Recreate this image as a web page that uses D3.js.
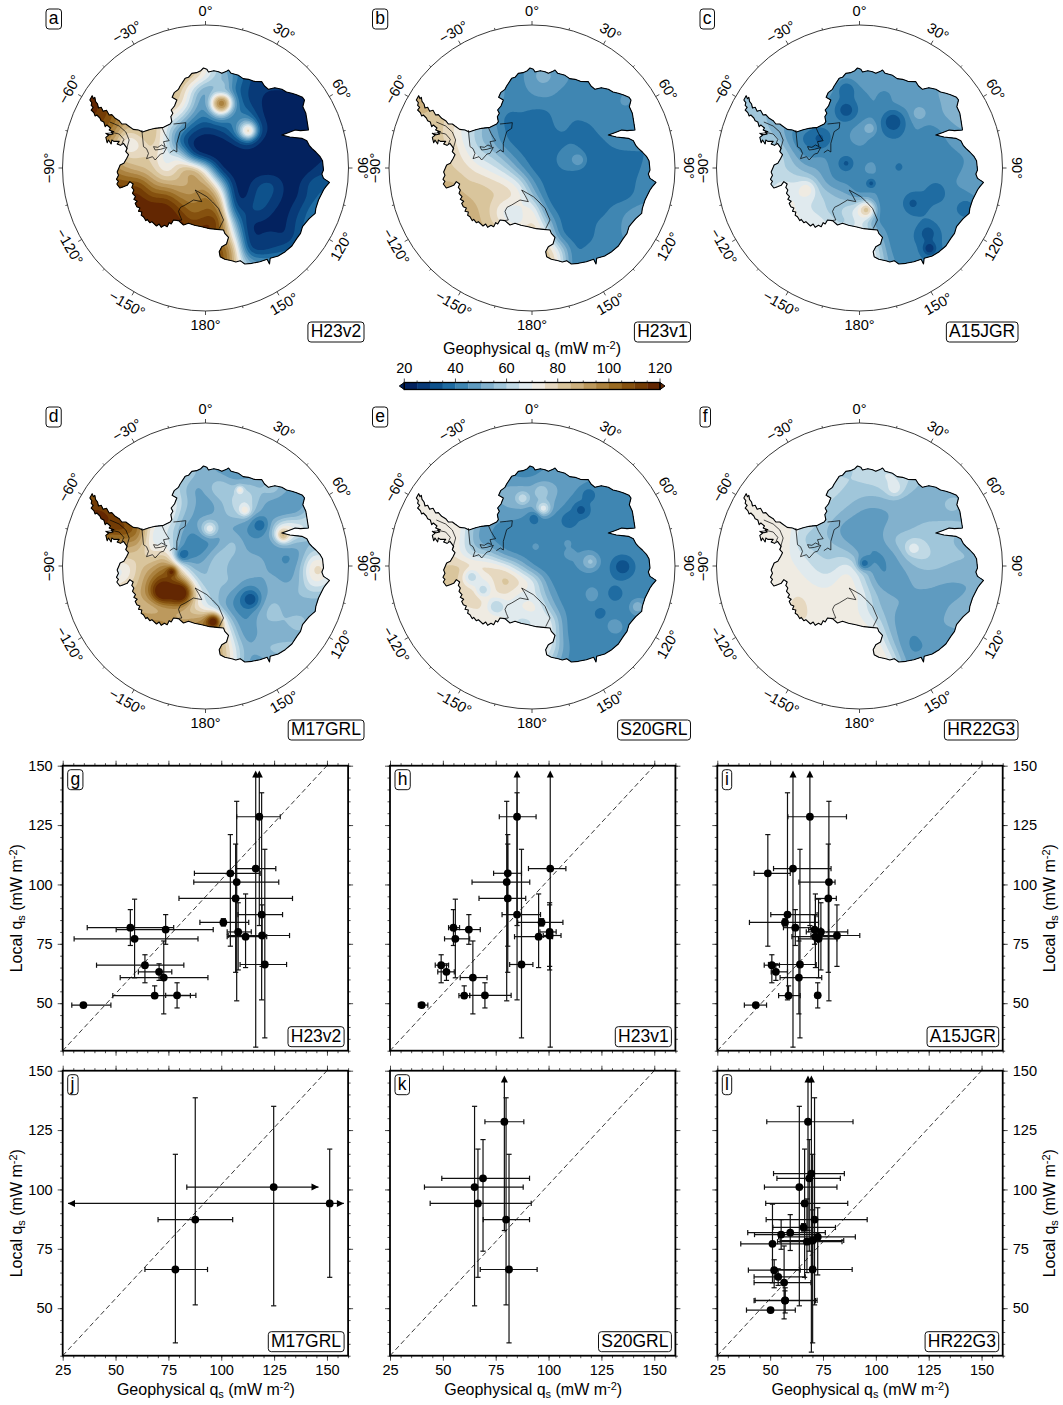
<!DOCTYPE html>
<html>
<head>
<meta charset="utf-8">
<script src="https://cdnjs.cloudflare.com/ajax/libs/d3/7.9.0/d3.min.js"></script>
<style>
  body { margin: 0; background: #fff; }
  text { font-family: "Liberation Sans", Arial, sans-serif; fill: #000; }
</style>
</head>
<body>
<svg id="fig" width="1063" height="1405"></svg>
<script>
// colour bar, one colour per 5 mW/m2 bin
const binEdges = d3.range(20, 121, 5);
const binColors = ["#03225f","#083a78","#0e528c","#1f6ca2","#3f86b2","#5f9bc0","#82b1cd","#a0c6da","#c0d9e5","#e0eaee",
  "#efebe2","#e6d8bf","#d9c59c","#ccb07e","#bc995d","#ab823f","#996b23","#85510f","#733c05","#632702"];
const colorbarTicks = [20, 40, 60, 80, 100, 120];

// coastline in map units, the graticule circle runs 98..956 / 75..933
const coast = [[187,287],[191,296],[195,292],[197,304],[203,312],[206,324],[214,322],[220,334],[230,331],[238,345],[246,344],[256,355],[268,362],[276,372],[288,372],[296,378],[310,388],[326,390],[338,396],
  [358,389],[376,385],[401,382],[421,372],[426,365],[423,350],[429,340],[424,330],[434,318],[441,300],[427,292],[433,278],[446,268],[451,258],[466,235],[476,232],[486,220],[500,218],[513,212],[521,204],[531,208],[536,216],[552,212],[566,215],[576,220],[590,214],[596,210],[604,220],[626,226],[640,236],[656,238],[672,244],[696,245],[704,258],[716,268],[735,263],[756,268],[770,276],[786,280],[800,284],[818,292],[824,300],[819,320],[828,340],[831,358],[836,390],
  [812,392],[796,390],[775,398],[756,405],[780,411],[816,415],[831,422],[838,436],[846,445],[858,456],[871,470],[878,482],[881,510],[876,522],[881,535],[899,547],[888,560],[881,570],[872,588],[866,600],[858,625],[856,640],[838,656],[826,670],[818,680],[812,700],[801,715],[786,738],[766,755],[745,768],[721,775],[719,792],[712,778],[690,785],[666,790],[645,792],[631,782],[618,786],[606,782],[585,778],[571,770],[568,755],[576,740],[590,732],[596,712],[585,700],[581,690],[561,688],[540,686],[516,680],[494,676],[476,670],[461,675],[446,662],[431,660],[424,672],[418,668],[412,680],[404,676],[394,682],[388,672],[380,678],[366,665],[360,668],[352,658],[348,662],[341,650],[334,646],[336,636],[326,634],[330,624],[321,620],[316,610],[322,604],[312,598],[317,590],[308,580],[312,570],[306,562],[310,552],[300,545],[292,556],[281,560],[270,564],[261,552],[266,544],[260,538],[266,526],[262,516],[271,495],[282,490],[290,476],[296,464],[288,455],[292,445],[281,430],[272,436],[262,432],[268,424],[252,424],[246,420],[244,432],[236,420],[232,428],[228,412],[236,406],[228,400],[240,404],[250,402],[244,396],[252,395],[238,390],[242,384],[231,375],[226,380],[222,366],[214,362],[210,354],[201,345],[196,348],[192,338],[184,330],[190,322],[184,316],[186,308],[180,300]];
const groundingRonne = [[336,390],[341,440],[350,446],[356,460],[350,476],[368,470],[376,480],[392,462],[401,460],[411,442],[392,448],[376,450],[371,440],[384,442],[395,435],[406,440]];
const groundingBerkner = [[396,382],[404,400],[411,412],[418,422],[401,425],[406,440]];
const groundingFilchner = [[420,458],[432,450],[441,456],[441,430],[451,395],[466,385],[468,368],[451,370],[431,372]];
const groundingRoss = [[496,570],[506,586],[516,605],[491,600],[466,615],[452,622],[446,634],[450,646],[456,660],[442,662]];
const groundingRoss2 = [[496,570],[531,590],[548,606],[566,625],[581,660],[568,686]];
const groundingPen = [[240,366],[268,378],[288,396],[298,420],[288,455]];
const groundingIsland = [[232,400],[250,398],[268,402],[282,418],[276,432]];

// heat flow, on a coarse grid (17 rows, 20 columns), mW/m2
const fieldH23v2 = [
[115,115,110,100,95,90,88,85,85,70,55,40,30,27,27,27,27,27,27,27],
[115,115,110,100,95,92,92,90,85,72,58,48,32,27,26,26,26,26,26,26],
[118,118,112,100,95,90,88,85,60,42,50,36,30,25,25,25,26,26,26,26],
[118,115,108,95,90,88,85,82,58,36,96,45,30,24,24,24,24,25,26,26],
[116,116,105,92,85,80,75,65,45,38,50,35,45,24,22,22,22,24,26,26],
[110,108,100,82,88,90,62,45,30,25,28,40,70,30,22,22,22,22,26,26],
[105,100,90,60,72,85,68,30,20,20,20,22,30,22,20,20,20,22,24,24],
[100,95,88,78,80,80,62,75,24,20,20,20,20,20,20,20,20,22,24,26],
[105,105,100,92,85,82,66,85,105,70,22,20,20,20,20,20,20,24,30,30],
[110,110,110,108,112,92,88,85,88,95,60,22,22,32,34,22,24,36,34,30],
[118,118,118,118,118,108,112,98,95,105,90,22,22,36,30,22,24,34,36,36],
[122,122,122,122,122,122,122,112,100,105,105,28,30,34,24,22,30,40,40,40],
[122,122,122,122,122,122,122,118,110,118,118,55,24,22,22,24,34,40,40,40],
[120,120,120,120,120,120,120,120,120,120,100,75,24,26,28,22,35,40,40,40],
[115,115,115,115,115,115,115,115,115,115,112,95,28,24,28,35,40,40,40,40],
[115,115,115,115,115,115,115,115,115,115,112,90,55,50,50,45,45,45,45,45],
[115,115,115,115,115,115,115,115,115,115,112,90,55,50,50,45,45,45,45,45]];
const fieldH23v1 = [
[88,88,85,80,75,70,60,45,42,48,50,45,42,40,40,42,42,42,42,42],
[90,88,85,82,75,70,60,40,42,52,52,50,44,42,42,42,42,42,42,42],
[88,88,85,80,72,65,55,42,42,47,50,44,42,42,38,42,46,44,42,42],
[85,88,82,78,70,62,52,42,42,42,42,42,42,42,42,44,48,42,42,42],
[85,85,82,78,72,60,44,37,40,37,37,44,40,42,42,42,42,42,42,42],
[80,80,82,75,65,55,50,37,37,37,37,42,38,37,42,42,40,40,40,40],
[80,80,82,78,68,55,50,40,37,37,37,37,40,37,38,42,44,40,40,40],
[85,85,82,80,72,64,60,50,40,37,37,42,47,37,37,37,37,40,40,40],
[85,85,82,80,78,72,68,62,48,37,37,40,40,37,37,37,37,40,42,42],
[85,85,85,88,80,82,78,75,68,45,37,37,37,37,37,37,37,42,42,42],
[85,85,85,88,86,82,82,80,75,55,37,37,37,37,37,37,37,42,42,42],
[88,88,88,88,90,85,78,62,68,80,42,37,37,37,37,42,45,48,48,48],
[88,88,88,88,90,86,80,70,62,80,60,38,37,37,42,42,47,52,52,52],
[88,88,88,88,88,88,88,88,88,85,72,38,37,37,42,42,47,50,50,50],
[90,90,90,90,90,90,90,90,90,90,85,68,38,42,42,42,42,42,42,42],
[90,90,90,90,90,90,90,90,90,90,88,70,38,42,42,42,42,42,42,42],
[90,90,90,90,90,90,90,90,90,90,88,70,38,42,42,42,42,42,42,42]];
const fieldA15JGR = [
[58,58,58,55,50,50,50,50,47,48,48,48,48,48,48,48,48,48,48,48],
[58,58,58,55,50,50,50,50,47,50,52,50,50,48,48,48,48,48,48,48],
[55,55,55,55,50,50,47,47,40,44,46,50,50,47,47,52,52,50,50,50],
[55,55,55,55,50,50,47,42,40,42,46,42,48,48,46,50,52,50,50,50],
[56,56,55,52,50,50,47,42,40,42,46,46,42,48,47,50,52,50,50,50],
[60,60,55,52,42,40,44,42,44,50,44,40,38,47,42,44,50,50,50,50],
[60,60,58,58,42,38,45,44,44,47,42,42,42,45,42,42,48,50,50,50],
[65,65,62,66,52,42,47,42,42,42,45,42,40,42,40,38,42,45,48,48],
[66,66,62,60,58,52,50,42,40,46,48,40,38,42,45,42,42,47,48,48],
[66,66,60,68,65,62,52,44,45,40,44,44,42,44,42,42,46,48,52,50],
[66,66,68,68,72,65,62,58,50,42,48,40,45,40,38,40,42,42,47,47],
[68,68,68,68,72,65,62,55,68,70,42,40,45,40,40,42,40,40,40,42],
[70,70,70,70,72,70,70,60,52,72,44,42,42,42,40,42,42,42,42,42],
[72,72,72,72,72,72,72,72,72,72,62,42,42,40,38,40,42,42,42,42],
[72,72,72,72,72,72,72,72,72,72,72,45,40,42,38,40,42,42,42,42],
[72,72,72,72,72,72,72,72,72,72,72,50,42,42,40,38,42,42,42,42],
[72,72,72,72,72,72,72,72,72,72,72,50,42,42,40,38,42,42,42,42]];
const fieldM17GRL = [
[100,100,100,90,80,70,60,55,55,52,50,46,46,50,52,52,52,52,52,52],
[100,100,100,90,80,70,68,66,58,50,48,44,44,47,50,50,50,50,50,50],
[105,105,100,90,80,72,62,60,45,52,68,55,62,54,66,50,50,50,50,50],
[110,110,105,95,85,75,80,62,52,45,52,62,70,52,46,44,44,50,50,50],
[118,120,115,100,85,78,78,58,48,46,52,60,58,50,42,44,48,72,50,50],
[110,115,115,118,105,62,68,52,44,64,50,46,42,42,60,85,75,60,60,60],
[95,95,95,95,95,60,72,48,38,38,46,62,46,46,46,58,52,50,50,50],
[85,85,85,85,80,75,82,42,40,48,62,56,50,50,48,40,46,68,60,60],
[66,66,66,66,85,90,108,75,50,55,62,46,58,52,48,44,52,85,78,60],
[66,66,66,75,85,105,112,100,64,52,56,58,48,48,54,48,52,76,66,60],
[88,88,88,88,88,105,112,108,78,62,55,46,38,45,52,52,58,56,56,56],
[85,85,85,85,85,78,88,86,76,64,52,42,40,50,62,50,48,50,50,50],
[100,100,100,100,100,100,95,88,95,105,80,52,42,55,56,56,64,50,50,50],
[100,100,100,100,100,100,100,100,100,100,90,62,42,52,48,50,52,50,50,50],
[100,100,100,100,100,100,100,100,100,100,90,70,50,54,60,60,58,55,55,55],
[100,100,100,100,100,100,100,100,100,100,90,72,48,46,50,50,50,50,50,50],
[100,100,100,100,100,100,100,100,100,100,90,72,48,46,50,50,50,50,50,50]];
const fieldS20GRL = [
[70,70,70,60,50,45,42,42,42,42,42,42,42,42,42,42,42,42,42,42],
[70,70,70,60,50,45,45,42,42,50,45,50,46,42,42,44,44,44,44,44],
[72,70,68,60,50,47,52,52,52,52,50,44,42,44,44,44,44,44,44,44],
[78,75,70,60,52,47,52,55,52,55,45,42,42,44,44,44,44,44,44,44],
[70,72,72,75,55,47,47,47,42,44,42,42,42,42,44,46,46,46,46,46],
[70,72,70,78,52,46,42,42,40,40,42,44,42,42,44,44,44,44,44,44],
[68,70,72,76,50,44,42,42,42,42,42,42,42,42,44,46,48,48,48,48],
[68,72,76,72,58,60,44,42,40,42,46,46,42,42,42,42,44,44,44,44],
[75,78,82,84,84,82,78,60,42,40,42,46,42,42,40,42,44,44,44,44],
[78,80,82,82,62,66,88,82,72,42,42,42,42,40,42,42,42,44,44,44],
[80,82,82,82,86,70,80,62,68,50,40,42,46,40,40,42,44,44,44,44],
[66,66,66,68,78,72,62,72,80,56,42,44,46,40,42,46,50,50,50,50],
[66,66,66,66,66,80,76,58,60,78,42,42,42,44,42,42,44,44,44,44],
[70,70,70,70,70,70,70,70,70,75,44,40,40,40,44,44,44,44,44,44],
[72,72,72,72,72,72,72,72,72,74,46,42,40,40,42,42,42,42,42,42],
[72,72,72,72,72,72,72,72,72,60,44,42,42,42,42,42,42,42,42,42],
[72,72,72,72,72,72,72,72,72,60,44,42,42,42,42,42,42,42,42,42]];
const fieldHR22G3 = [
[72,72,70,68,64,60,58,58,62,62,60,58,58,58,58,58,58,58,58,58],
[72,72,70,68,64,62,60,60,60,66,68,62,56,55,55,55,55,55,55,55],
[72,72,70,70,66,62,62,60,60,58,66,60,52,52,52,54,54,54,54,54],
[72,72,72,72,70,62,60,58,52,52,52,50,50,54,58,54,54,54,54,54],
[72,72,72,72,72,62,58,52,48,47,50,52,54,54,54,54,54,54,54,54],
[72,74,76,76,62,60,52,46,46,48,52,52,56,56,56,56,56,56,56,56],
[72,72,72,76,58,56,56,48,46,46,56,62,62,56,55,52,52,52,52,52],
[72,72,72,72,66,60,58,60,46,42,46,58,66,58,56,56,54,54,54,54],
[72,72,72,72,70,64,60,72,62,42,46,50,56,56,54,54,54,54,54,54],
[72,72,72,72,72,68,68,76,66,46,44,50,50,50,50,50,50,52,52,52],
[72,72,72,74,76,72,72,72,72,54,50,50,50,50,46,50,52,52,52,52],
[72,72,72,74,78,72,72,72,70,56,50,50,48,46,52,56,62,58,58,58],
[72,72,72,72,76,74,72,72,72,66,48,48,44,50,52,52,50,50,50,50],
[72,72,72,72,72,72,72,72,72,74,52,44,46,48,48,50,50,50,50,50],
[72,72,72,72,72,72,72,72,72,78,60,42,44,46,44,46,46,46,46,46],
[72,72,72,72,72,72,72,72,72,78,72,46,48,48,48,48,48,48,48,48],
[72,72,72,72,72,72,72,72,72,78,72,46,48,48,48,48,48,48,48,48]];

// small features the coarse grid misses: x, y, value, width
const spotsH23v2 = [[575,310,98,20],[655,392,76,16],[575,255,56,16]];
const spotsH23v1 = [[666,480,49,14]];
const spotsA15JGR = [[627,365,31,24],[487,270,36,18],[487,330,32,20],[407,415,34,24],[487,490,34,14],[562,550,33,10],[687,610,34,20],[757,575,35,16],[732,700,32,18],[737,745,25,13],[847,625,35,14],[602,290,42,14],[707,340,54,14],[557,385,54,13],[367,570,73,20],[547,630,82,18]];
const spotsM17GRL = [[690,381,37,18],[400,580,125,22],[450,585,125,24],[425,522,118,11],[550,671,122,16],[662,604,31,18],[540,392,68,15],[645,336,74,12],[630,276,74,8],[760,411,86,15],[460,470,36,14]];
const spotsS20GRL = [[499,301,64,13],[561,331,68,15],[555,281,60,14],[533,361,37,12],[640,366,35,16],[674,336,33,17],[697,291,36,14],[799,506,31,20],[702,491,56,18],[640,466,49,9],[731,646,37,14],[776,586,35,11],[346,536,62,16],[380,576,62,14],[420,626,60,16],[634,436,48,8],[538,446,48,9],[707,586,49,12],[843,626,54,14],[775,686,48,18]];
const spotsHR22G3 = [[542,496,37,14],[689,451,68,14],[632,271,68,16]];

// local measurements, shared by the scatter panels (null = no upper bound, drawn as arrow)
const siteLocal =     [49.2,53.2,53.3,60.8,63.2,66,66.3,77.1,78,78.5,80,81,81.8,84,87.3,94.1,101,104.7,106.7,128.5];
const siteLocalLow =  [48.2,52,48,45.5,59.6,58.6,35.4,60.7,65,65.5,64,74.8,74.3,82.5,51.4,63,51,74,31.5,82.7];
const siteLocalHigh = [50.2,57.3,58.6,76.2,66.6,70.4,114.8,93.8,96,91.4,92.3,87.3,89.4,85.6,138.6,117,135,121,null,null];
const localArrowTip = 148;

const h23v2Geo =  [34.8,68.5,79.1,72.8,70.6,63.9,120.6,59,111.5,119.3,108,73.7,57,101,119.1,106.8,107.3,104.3,116.3,118];
const h23v2Low =  [29.3,48.7,73.7,52.2,60.8,41,108.9,30.4,102.8,103.3,102.8,50.3,36.6,89.9,107.9,80,87,87.3,107,107.3];
const h23v2High = [47.8,85.4,88,93.7,76.6,82.3,130.9,89,121.5,132.3,114.2,96.2,77.5,113,129,133.7,127.2,118.4,125.8,127.9];

const h23v1Geo =  [40,60.1,69.9,64.2,51.7,49.2,87.2,55.9,95.3,100.5,100.5,62.3,55,96.7,85.1,80.7,80.2,80.7,100.8,85.1];
const h23v1Low =  [38.4,57.6,62.7,58.2,47.6,46.4,81.6,50.8,83.9,97.5,95.9,55.4,52.7,85.4,78,67.1,63.8,74,90.5,76.7];
const h23v1High = [42.9,62.7,82.3,70.9,55.4,52.7,92.6,62.7,101.9,105.9,103.6,67.7,57.9,106.8,96.2,89.2,91.1,87.2,108.2,94.1];

const a15Geo =  [43.2,58.7,72.5,63.6,52.7,50.8,64.1,72.9,71.4,81.6,74,71,61.9,57,58.2,77.5,77.8,48.9,60.8,68.8];
const a15Low =  [37.8,54,71.4,54.7,50.5,47.2,49.2,63.4,60.3,69.3,67.1,68.2,56.3,40.2,50.3,71.4,63.6,42.4,51.6,58.4];
const a15High = [48.3,64.2,73.6,74.4,58.2,54.4,71.8,81.6,82.4,92.4,86.7,74,69,72.9,72.2,81.3,80.7,59.5,78.8,86.1];

const hr22Geo =  [50.2,57,57.1,56.6,53.8,51.9,70.1,51.1,67.4,70.1,72.5,55.2,59.5,65.8,71,66.3,63.8,68.5,69.5,67.9];
const hr22Low =  [38.8,42.4,42.9,42.4,42.4,39.7,52.4,36.1,53.5,54.7,54,42.6,39.4,51.3,48.1,47.9,47.3,53.2,51.6,48.4];
const hr22High = [61.9,71.4,72.2,69.3,66.6,64.2,88.8,69.8,84,84.8,90.3,72.9,76.1,80.9,95.9,86.7,81.6,83.2,85.1,89.2];

const m17Sites = [6,14,15,16];
const m17Geo =  [78.3,87.7,151.3,124.8];
const m17Low =  [63.9,70.1,null,83.7];
const m17High = [93.5,105.4,null,null];
const m17LowTip =  [null,null,27.5,null];
const m17HighTip = [null,null,158,146];

const s20Sites = [6,14,15,16,17,19];
const s20Geo =  [81.3,79.9,66.6,65,69,79.1];
const s20Low =  [67.7,69.1,44,41.3,49.5,69.9];
const s20High = [94.6,91,91.8,88,91,88.3];

const xTicks = [25,50,75,100,125,150];
const yTicks = [50,75,100,125,150];
const lonLabels = ["0°","30°","60°","90°","120°","150°","180°","−150°","−120°","−90°","−60°","−30°"];
const lonLabelAngle = [0,30,60,90,-60,-30,0,30,60,-90,-60,-30];

const svg = d3.select("#fig");
const color = d3.scaleThreshold().domain(binEdges.slice(1, -1)).range(binColors);

// label with a subscript s and a superscript -2
function fluxLabel(g, prefix) {
  const t = g.append("text").attr("font-size", 16).attr("text-anchor", "middle");
  t.append("tspan").text(prefix + " q");
  t.append("tspan").attr("dy", 3).attr("font-size", 11).text("s");
  t.append("tspan").attr("dy", -3).text(" (mW m");
  t.append("tspan").attr("dy", -5).attr("font-size", 11).text("-2");
  t.append("tspan").attr("dy", 5).text(")");
  return t;
}

// white rounded tag, x/y is the corner named by anchor
function tag(g, label, x, y, anchor, size) {
  const group = g.append("g");
  const box = group.append("rect").attr("rx", 3).attr("fill", "#fff").attr("stroke", "#111").attr("stroke-width", 1);
  const t = group.append("text").attr("font-size", size).text(label);
  const b = t.node().getBBox();
  const w = b.width + 5.5, h = size + 2.5;
  const left = anchor == "br" ? x - w : x;
  const top = anchor == "br" ? y - h : y;
  box.attr("x", left).attr("y", top).attr("width", w).attr("height", h);
  t.attr("x", left + 2.75).attr("y", top + h - 0.24 * size - 1);
}

function drawMap(panel) {
  const r = 143;
  const { cx, cy } = panel;
  const x = d3.scaleLinear().domain([98, 956]).range([cx - r, cx + r]);
  const y = d3.scaleLinear().domain([75, 933]).range([cy - r, cy + r]);
  const g = svg.append("g");
  const clipId = "clip-" + panel.letter;
  const line = d3.line().x(d => x(d[0])).y(d => y(d[1]));
  g.append("clipPath").attr("id", clipId).append("path").attr("d", line(coast) + "Z");

  // refine the read-off grid, blur, then lay the small features on top
  const rows = panel.field.length, cols = panel.field[0].length, k = 8;
  const w = (cols - 1) * k + 1, h = (rows - 1) * k + 1;
  const stepX = panel.stepX / k, stepY = 40 / k;
  const fine = new Float64Array(w * h);
  for (let j = 0; j < h; j++) {
    for (let i = 0; i < w; i++) {
      const i0 = Math.min(Math.floor(i / k), cols - 2), j0 = Math.min(Math.floor(j / k), rows - 2);
      const fx = i / k - i0, fy = j / k - j0;
      fine[j * w + i] = (1 - fy) * ((1 - fx) * panel.field[j0][i0] + fx * panel.field[j0][i0 + 1])
        + fy * ((1 - fx) * panel.field[j0 + 1][i0] + fx * panel.field[j0 + 1][i0 + 1]);
    }
  }
  d3.blur2({ data: fine, width: w, height: h }, 3);
  panel.spots.forEach(([sx, sy, value, width]) => {
    for (let j = 0; j < h; j++) {
      for (let i = 0; i < w; i++) {
        const dx = 170 + i * stepX - sx, dy = 190 + j * stepY - sy;
        const a = Math.exp(-(dx * dx + dy * dy) / (2 * width * width));
        fine[j * w + i] += a * (value - fine[j * w + i]);
      }
    }
  });
  const contours = d3.contours().size([w, h]).thresholds(binEdges.slice(0, -1))(Array.from(fine));
  const path = d3.geoPath(d3.geoTransform({
    point(px, py) { this.stream.point(x(170 + (px - 0.5) * stepX), y(190 + (py - 0.5) * stepY)); }
  }));
  const fieldG = g.append("g").attr("clip-path", `url(#${clipId})`);
  fieldG.append("path").attr("d", line(coast) + "Z").attr("fill", binColors[0]);
  fieldG.selectAll("path.c").data(contours).enter().append("path").attr("class", "c")
    .attr("d", path).attr("fill", d => color(d.value + 0.1));

  g.append("path").attr("d", line(coast) + "Z").attr("fill", "none").attr("stroke", "#000").attr("stroke-width", 1.1).attr("stroke-linejoin", "round");
  [groundingRonne, groundingBerkner, groundingFilchner, groundingRoss, groundingRoss2, groundingPen, groundingIsland].forEach(l => {
    g.append("path").attr("d", line(l)).attr("fill", "none").attr("stroke", "#000").attr("stroke-width", 0.7);
  });

  // graticule circle with longitude ticks
  g.append("circle").attr("cx", cx).attr("cy", cy).attr("r", r).attr("fill", "none").attr("stroke", "#222").attr("stroke-width", 0.9);
  const angle = d3.scaleLinear().domain([0, 360]).range([0, 2 * Math.PI]);
  d3.range(0, 360, 15).forEach(lon => {
    const a = angle(lon), len = lon % 30 == 0 ? 4 : 2;
    g.append("line")
      .attr("x1", cx + r * Math.sin(a)).attr("y1", cy - r * Math.cos(a))
      .attr("x2", cx + (r + len) * Math.sin(a)).attr("y2", cy - (r + len) * Math.cos(a))
      .attr("stroke", "#222").attr("stroke-width", 0.8);
  });
  lonLabels.forEach((label, i) => {
    const a = angle(i * 30), lr = 157;
    g.append("text").attr("font-size", 14.6).attr("text-anchor", "middle").attr("dominant-baseline", "central")
      .attr("transform", `translate(${cx + lr * Math.sin(a)},${cy - lr * Math.cos(a)}) rotate(${lonLabelAngle[i]})`)
      .text(label);
  });
  tag(g, panel.letter, cx - 159.5, cy - 159, "tl", 17.5);
  tag(g, panel.name, cx + 158.5, cy + 174, "br", 17.5);
}

function drawColorbar() {
  const x = d3.scaleLinear().domain([20, 120]).range([404.3, 660]);
  const top = 382.5, bot = 389.5;
  const g = svg.append("g");
  binColors.forEach((c, i) => {
    g.append("rect").attr("x", x(binEdges[i])).attr("y", top).attr("width", x(binEdges[i + 1]) - x(binEdges[i]) + 0.3)
      .attr("height", bot - top).attr("fill", c);
  });
  const line = d3.line();
  g.append("path").attr("d", line([[x(20), top], [x(20) - 5, (top + bot) / 2], [x(20), bot]]) + "Z").attr("fill", binColors[0]).attr("stroke", "#000");
  g.append("path").attr("d", line([[x(120), top], [x(120) + 5, (top + bot) / 2], [x(120), bot]]) + "Z").attr("fill", binColors[19]).attr("stroke", "#000");
  g.append("rect").attr("x", x(20)).attr("y", top).attr("width", x(120) - x(20)).attr("height", bot - top)
    .attr("fill", "none").attr("stroke", "#000").attr("stroke-width", 1.3);
  binEdges.forEach(v => {
    g.append("line").attr("x1", x(v)).attr("x2", x(v)).attr("y1", top).attr("y2", top - (v % 20 == 0 ? 4 : 2))
      .attr("stroke", "#222").attr("stroke-width", 0.8);
  });
  colorbarTicks.forEach(v => {
    g.append("text").attr("x", x(v)).attr("y", 373).attr("font-size", 14.6).attr("text-anchor", "middle").text(v);
  });
  fluxLabel(g, "Geophysical").attr("x", 532).attr("y", 354);
}

function drawScatter(panel) {
  const W = 285.4, H = 285;
  const { left, top } = panel;
  const x = d3.scaleLinear().domain([25, 160]).range([left, left + W]);
  const y = d3.scaleLinear().domain([30, 150]).range([top + H, top]);
  const g = svg.append("g");

  function addAxis(axis, tx, ty) {
    const a = g.append("g").attr("transform", `translate(${tx},${ty})`).call(axis);
    a.select(".domain").remove();
    a.selectAll("line").attr("stroke", "#222").attr("stroke-width", 0.8);
    a.selectAll("text").attr("font-size", 14.6).attr("font-family", "Liberation Sans").attr("fill", "#000");
    return a;
  }
  const minorX = d3.range(25, 161, 5), minorY = d3.range(30, 151, 5);
  const none = () => "";
  addAxis(d3.axisBottom(x).tickValues(minorX).tickSize(2.5).tickFormat(none), 0, top + H);
  addAxis(d3.axisTop(x).tickValues(minorX).tickSize(2.5).tickFormat(none), 0, top);
  addAxis(d3.axisLeft(y).tickValues(minorY).tickSize(2.5).tickFormat(none), left, 0);
  addAxis(d3.axisRight(y).tickValues(minorY).tickSize(2.5).tickFormat(none), left + W, 0);
  addAxis(d3.axisBottom(x).tickValues(xTicks).tickSize(5).tickPadding(4).tickFormat(panel.bottom ? d3.format("d") : none), 0, top + H);
  addAxis(d3.axisTop(x).tickValues(xTicks).tickSize(5).tickFormat(none), 0, top);
  addAxis(d3.axisLeft(y).tickValues(yTicks).tickSize(5).tickPadding(5).tickFormat(panel.side == "left" ? d3.format("d") : none), left, 0);
  addAxis(d3.axisRight(y).tickValues(yTicks).tickSize(5).tickPadding(5).tickFormat(panel.side == "right" ? d3.format("d") : none), left + W, 0);

  const line = d3.line();
  g.append("path").attr("d", line([[x(25), y(30)], [x(150), y(150)]]))
    .attr("stroke", "#222").attr("stroke-width", 0.9).attr("stroke-dasharray", "5,3").attr("fill", "none");

  const ink = "#111", cap = 2.6, head = 7;
  const seg = (x1, y1, x2, y2) => g.append("line").attr("x1", x1).attr("y1", y1).attr("x2", x2).attr("y2", y2)
    .attr("stroke", ink).attr("stroke-width", 1.2);
  const tri = pts => g.append("path").attr("d", line(pts) + "Z").attr("fill", "#000");

  panel.sites.forEach((site, i) => {
    const px = x(panel.geo[i]), py = y(siteLocal[site]);
    // vertical error bar
    const yLow = y(siteLocalLow[site]);
    const high = siteLocalHigh[site];
    const yHigh = high === null ? y(localArrowTip) + head - 1 : y(high);
    seg(px, yLow, px, yHigh);
    seg(px - cap, yLow, px + cap, yLow);
    if (high === null) tri([[px, y(localArrowTip)], [px - head / 2, y(localArrowTip) + head], [px + head / 2, y(localArrowTip) + head]]);
    else seg(px - cap, yHigh, px + cap, yHigh);
    // horizontal error bar, null means it runs off: arrow at the tip value
    const lo = panel.low[i], hi = panel.high[i];
    const xLo = x(lo === null ? panel.lowTip[i] : lo), xHi = x(hi === null ? panel.highTip[i] : hi);
    seg(xLo, py, xHi, py);
    if (lo === null) tri([[xLo, py], [xLo + head, py - head / 2], [xLo + head, py + head / 2]]);
    else seg(xLo, py - cap, xLo, py + cap);
    if (hi === null) tri([[xHi, py], [xHi - head, py - head / 2], [xHi - head, py + head / 2]]);
    else seg(xHi, py - cap, xHi, py + cap);
  });
  panel.sites.forEach((site, i) => {
    g.append("circle").attr("cx", x(panel.geo[i])).attr("cy", y(siteLocal[site])).attr("r", 3.9).attr("fill", "#000");
  });

  g.append("rect").attr("x", left).attr("y", top).attr("width", W).attr("height", H)
    .attr("fill", "none").attr("stroke", "#000").attr("stroke-width", 1.8);
  tag(g, panel.letter, left + 5, top + 4, "tl", 17.5);
  tag(g, panel.name, left + W - 4, top + H - 4, "br", 17.5);

  if (panel.bottom) fluxLabel(g, "Geophysical").attr("x", left + W / 2 + 0.5).attr("y", top + H + 39.5);
  if (panel.side) {
    const lx = panel.side == "left" ? 22 : 1055;
    fluxLabel(g, "Local").attr("transform", `translate(${lx},${top + H / 2}) rotate(-90)`);
  }
}

const allSites = d3.range(siteLocal.length);
[
  { letter: "a", name: "H23v2", cx: 205.5, cy: 168, field: fieldH23v2, spots: spotsH23v2, stepX: 40 },
  { letter: "b", name: "H23v1", cx: 532, cy: 168, field: fieldH23v1, spots: spotsH23v1, stepX: 40 },
  { letter: "c", name: "A15JGR", cx: 859.5, cy: 168, field: fieldA15JGR, spots: spotsA15JGR, stepX: 40 },
  { letter: "d", name: "M17GRL", cx: 205.5, cy: 566, field: fieldM17GRL, spots: spotsM17GRL, stepX: 40 },
  { letter: "e", name: "S20GRL", cx: 532, cy: 566, field: fieldS20GRL, spots: spotsS20GRL, stepX: 45.3 },
  { letter: "f", name: "HR22G3", cx: 859.5, cy: 566, field: fieldHR22G3, spots: spotsHR22G3, stepX: 45.3 }
].forEach(drawMap);
drawColorbar();
[
  { letter: "g", name: "H23v2", left: 62.7, top: 765.7, side: "left", sites: allSites, geo: h23v2Geo, low: h23v2Low, high: h23v2High },
  { letter: "h", name: "H23v1", left: 390, top: 765.7, sites: allSites, geo: h23v1Geo, low: h23v1Low, high: h23v1High },
  { letter: "i", name: "A15JGR", left: 717.3, top: 765.7, side: "right", sites: allSites, geo: a15Geo, low: a15Low, high: a15High },
  { letter: "j", name: "M17GRL", left: 62.7, top: 1070.7, side: "left", bottom: true, sites: m17Sites, geo: m17Geo, low: m17Low, high: m17High, lowTip: m17LowTip, highTip: m17HighTip },
  { letter: "k", name: "S20GRL", left: 390, top: 1070.7, bottom: true, sites: s20Sites, geo: s20Geo, low: s20Low, high: s20High },
  { letter: "l", name: "HR22G3", left: 717.3, top: 1070.7, side: "right", bottom: true, sites: allSites, geo: hr22Geo, low: hr22Low, high: hr22High }
].forEach(drawScatter);
</script>
</body>
</html>
